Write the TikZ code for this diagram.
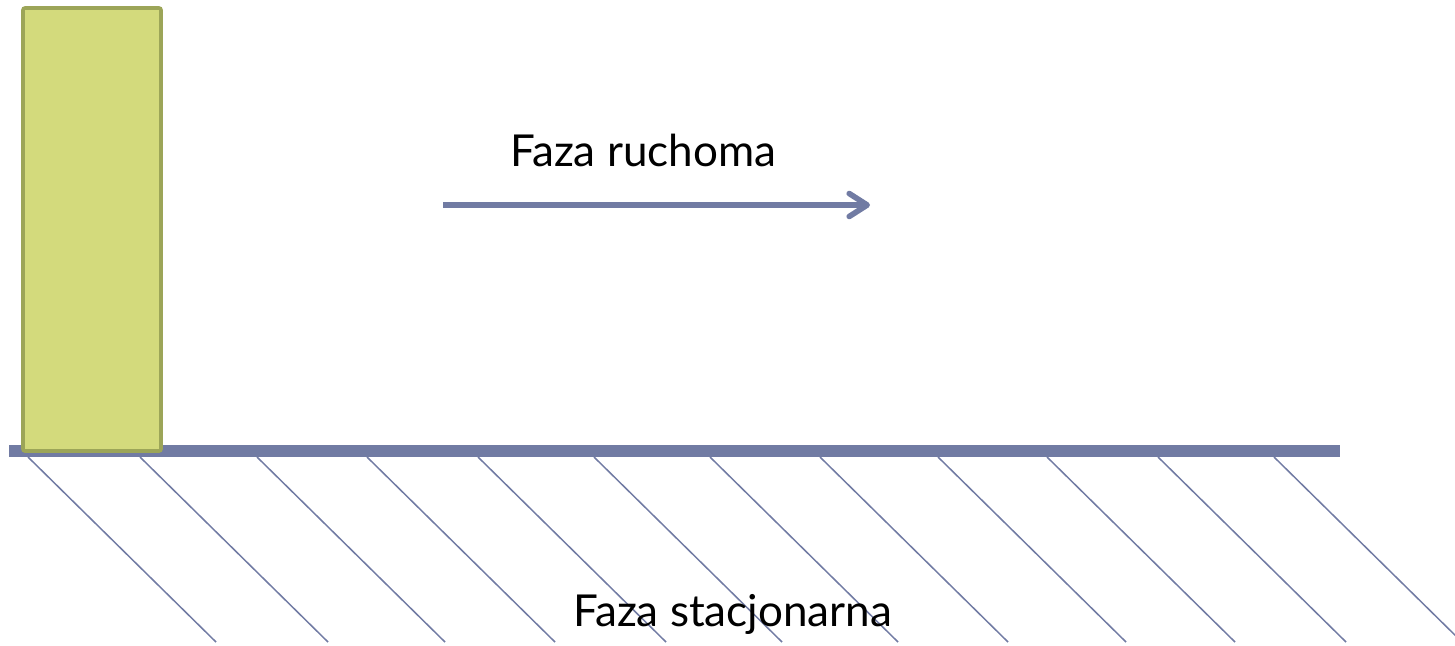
\documentclass[tikz,border=0pt]{standalone}
\usepackage{fontspec}
\setmainfont{Lato}
\usetikzlibrary{arrows.meta}
\definecolor{barblue}{HTML}{717BA3}
\definecolor{colfill}{HTML}{D3DA7C}
\definecolor{coledge}{HTML}{9CA558}
\tikzset{
  hatchline/.style={draw=barblue, line width=0.75pt},
  barline/.style={draw=barblue, line width=5.8pt},
  column/.style={draw=coledge, fill=colfill, line width=1.8pt, rounded corners=1pt},
  flowarrow/.style={draw=barblue, line width=2.8pt, -{Straight Barb[length=9pt, width=11.5pt, line cap=round, line join=round]}},
  label/.style={font=\fontsize{22}{26}\selectfont, text=black, inner sep=0pt}
}
\begin{document}
\begin{tikzpicture}[x=0.5pt, y=-0.5pt]
\useasboundingbox (0,0) rectangle (1455,645);
% hatching
\foreach \s in {28,140,257,367,478,594,710,820,938,1047,1158,1274}{
  \draw[hatchline] (\s,457) -- ++(188,185);
}
% stationary phase bar
\coordinate (barL) at (9,451);
\coordinate (barR) at (1340,451);
\draw[barline] (barL) -- (barR);
% column
\draw[column] (23,8) rectangle (161,451);
% arrow
\coordinate (arrS) at (443,205);
\coordinate (arrE) at (870,205);
\draw[flowarrow] (arrS) -- (arrE);
% labels
\node[label, anchor=base west] (mob) at (510,166) {Faza ruchoma};
\node[label, anchor=base west] (stat) at (573,626) {Faza stacjonarna};
\end{tikzpicture}
\end{document}
